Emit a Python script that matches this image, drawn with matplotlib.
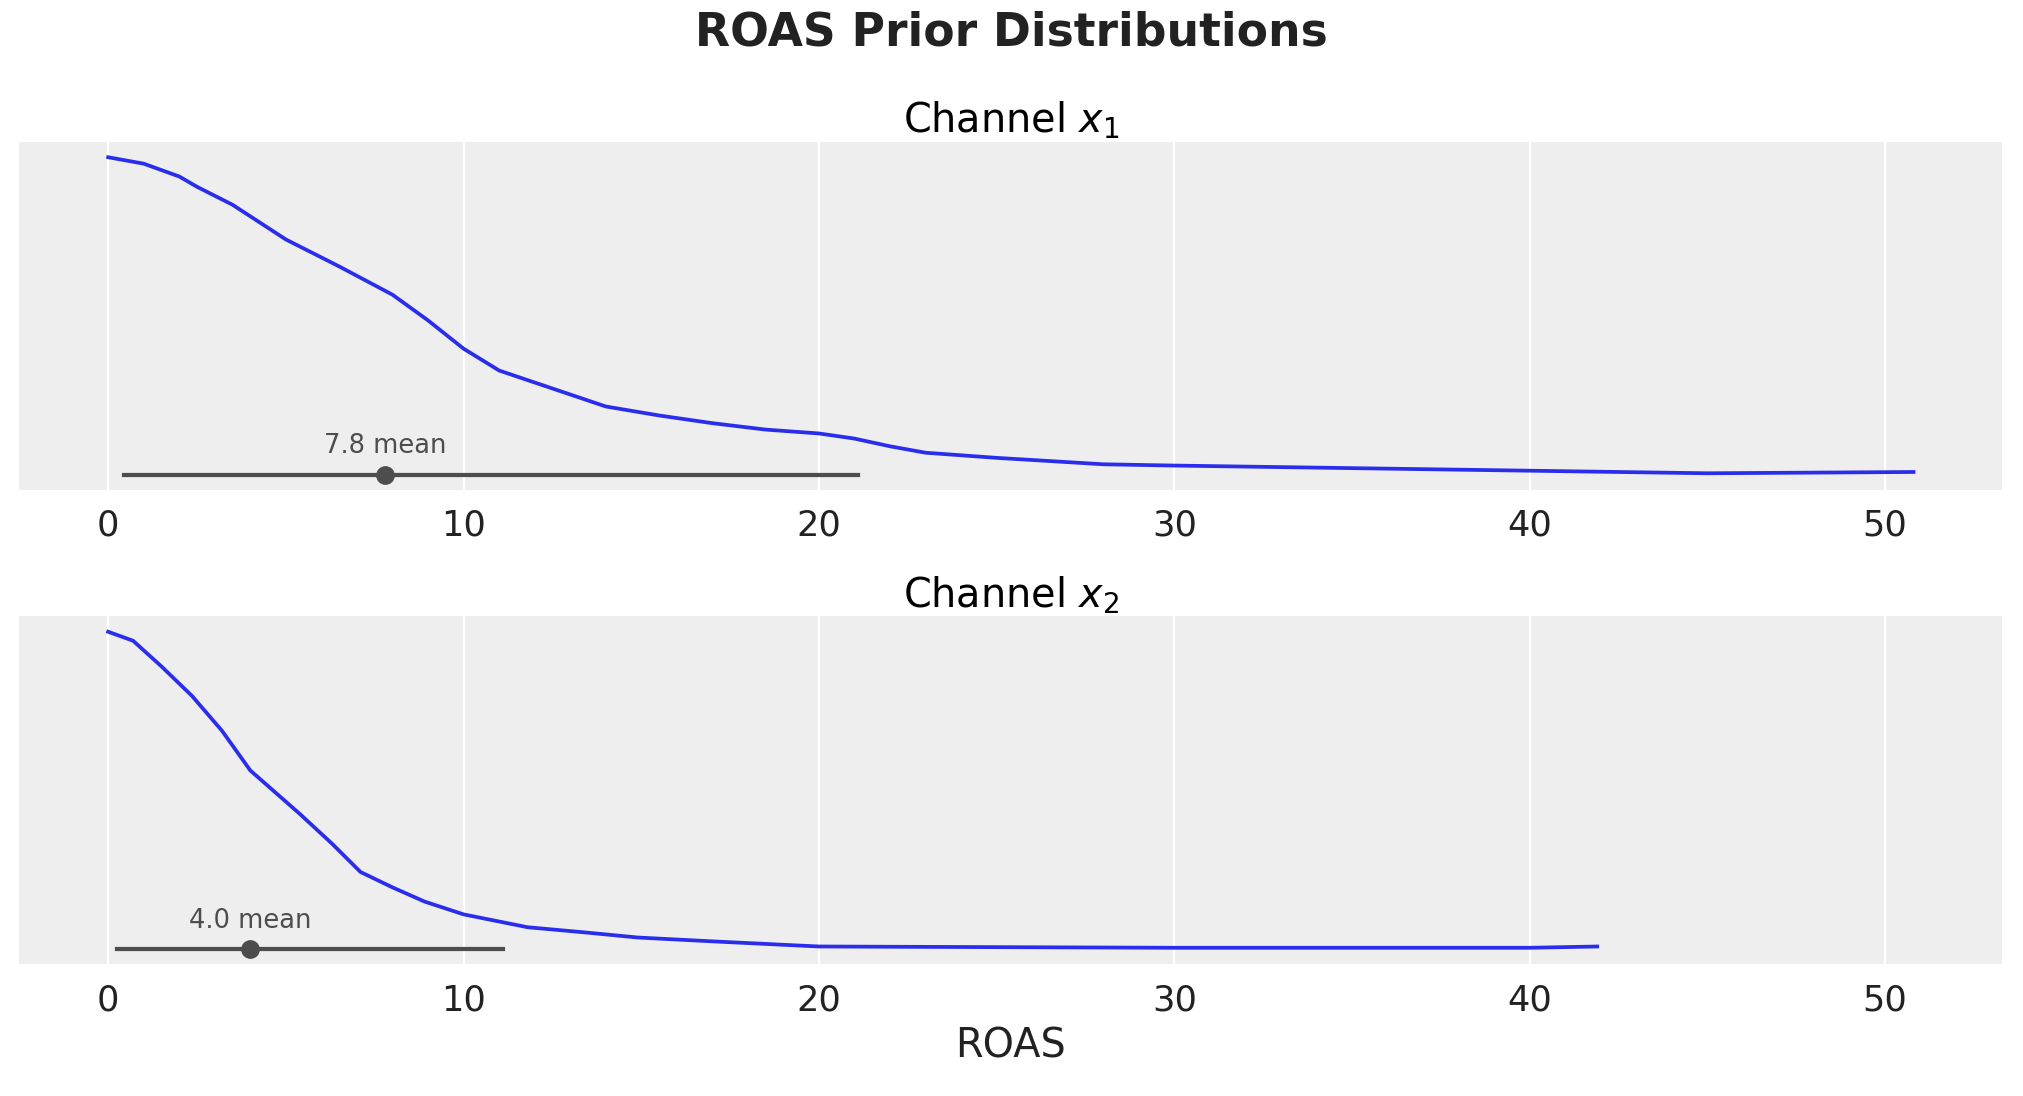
import matplotlib
matplotlib.use("Agg")
import matplotlib.pyplot as plt
import numpy as np

x1 = [0, 1, 2, 2.5, 3.5, 5, 6.5, 8, 9, 10, 11, 12.5, 14, 15.5, 17, 18.5, 20, 21, 22, 23, 25, 28, 30, 35, 40, 45, 50.8]
d1 = [247, 242, 232, 224, 210, 183, 162, 140, 120, 98, 81, 67, 53, 46, 40, 35, 32, 28, 22, 17, 13, 8, 7, 5, 3, 1, 2]
x2 = [0, 0.7, 1.5, 2.36, 3.2, 4, 5.4, 6.3, 7.1, 8.0, 8.9, 10, 11.8, 13.4, 14.9, 17, 20, 25, 30, 40, 41.9]
d2 = [247, 240, 220, 197, 170, 139, 105, 82, 60, 48, 37, 27, 17, 13, 9, 6, 2, 1.5, 1, 1, 2]
hdi = [(0.45, 21.1), (0.25, 11.1)]
means = [7.8, 4.0]
titles = ["Channel $x_1$", "Channel $x_2$"]

fig = plt.figure(figsize=(2023/168.6, 1096/168.6), dpi=168.6)
W, H = 1568, 850
boxes = [(110, 380), (478, 748)]
axes = []
for i, (top, bot) in enumerate(boxes):
    ax = fig.add_axes([15/W, 1-bot/H, (1552-15)/W, (bot-top)/H])
    axes.append(ax)
    ax.set_facecolor("#eeeeee")
    for s in ax.spines.values():
        s.set_visible(False)
    ax.grid(axis="x", color="white", lw=1)
    ax.set_axisbelow(True)
    xs, ds = (x1, d1) if i == 0 else (x2, d2)
    ax.plot(xs, ds, color="#2a2eec", lw=1.6)
    lo, hi = hdi[i]
    ax.plot([lo, hi], [0, 0], color="#4d4d4d", lw=1.8)
    ax.plot([means[i]], [0], "o", color="#4d4d4d", ms=7)
    ax.text(means[i], 12, f"{means[i]:.1f} mean", ha="center", va="bottom",
            fontsize=11, color="#4d4d4d")
    ax.set_xlim(-2.5, 53.3)
    ax.set_ylim(-12, 259)
    ax.set_yticks([])
    ax.set_xticks([0, 10, 20, 30, 40, 50])
    ax.tick_params(axis="x", labelsize=15, length=0, pad=8, colors="#222222")
    ax.set_title(titles[i], fontsize=17, pad=4)
axes[1].set_xlabel("ROAS", fontsize=17, color="#222222")
fig.suptitle("ROAS Prior Distributions", fontsize=19.5, fontweight="bold",
             color="#222222", y=0.99)
fig.savefig("out.png", dpi=168.6)
